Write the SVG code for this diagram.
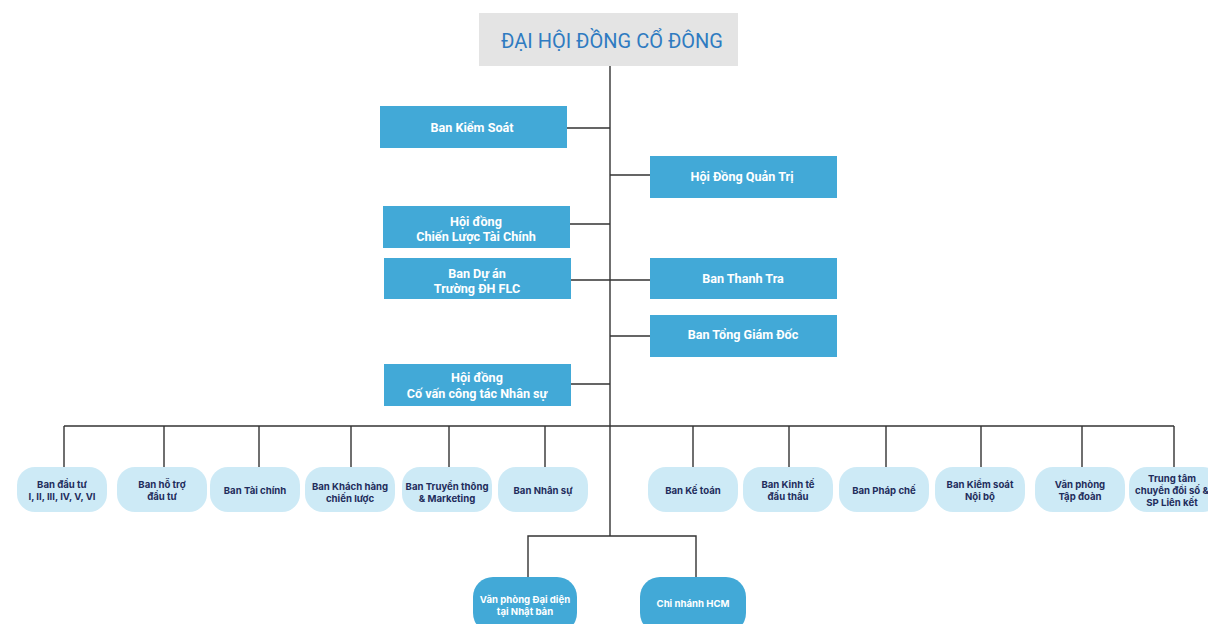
<svg xmlns="http://www.w3.org/2000/svg" width="1208" height="624" viewBox="0 0 1208 624">
<style>
.bg{fill:#ffffff}
.top{fill:#e4e4e4}
.title{font-family:Roboto,"Liberation Sans",sans-serif;font-size:20px;fill:#2f7bc1;text-anchor:middle}
.mid{fill:#42a9d7}
.mt{font-family:Roboto,"Liberation Sans",sans-serif;font-size:12.6px;font-weight:bold;fill:#ffffff;text-anchor:middle}
.lt{fill:#cdeaf6}
.lt-t{font-family:Inter,"Liberation Sans",sans-serif;font-size:9.6px;font-weight:bold;fill:#1f2d5c;text-anchor:middle}
.bt{font-family:Inter,"Liberation Sans",sans-serif;font-size:9.6px;font-weight:bold;fill:#ffffff;text-anchor:middle}
.ln{stroke:#333333;stroke-width:1.4;fill:none}
</style>
<rect class="bg" x="0" y="0" width="1208" height="624"/>
<g id="connectors">
<path class="ln" d="M610 66V536"/>
<path class="ln" d="M567 128H610M610 175H650M570 224H610M571 280H650M610 336H650M571 384H610"/>
<path class="ln" d="M64 426H1174"/>
<path class="ln" d="M64 426V467M164 426V467M259 426V467M351 426V467M449 426V467M545 426V467M693 426V467M789 426V467M886 426V467M981 426V467M1082 426V467M1174 426V467"/>
<path class="ln" d="M528 577V536H696V577"/>
</g>
<g id="n-dhdcd"><rect class="top" x="479" y="13" width="259" height="53"/><text class="title" x="612" y="48">ĐẠI HỘI ĐỒNG CỔ ĐÔNG</text></g>
<g id="n-bks"><rect class="mid" x="380" y="106" width="187" height="42"/><text class="mt" x="472" y="132">Ban Kiểm Soát</text></g>
<g id="n-hdqt"><rect class="mid" x="650" y="156" width="187" height="42"/><text class="mt" x="742" y="181">Hội Đồng Quản Trị</text></g>
<g id="n-hdcltc"><rect class="mid" x="383" y="206" width="187" height="42"/><text class="mt" x="476" y="226">Hội đồng</text><text class="mt" x="476" y="241">Chiến Lược Tài Chính</text></g>
<g id="n-bda"><rect class="mid" x="384" y="258" width="187" height="41"/><text class="mt" x="477" y="278">Ban Dự án</text><text class="mt" x="477" y="293">Trường ĐH FLC</text></g>
<g id="n-btt"><rect class="mid" x="650" y="258" width="187" height="41"/><text class="mt" x="743" y="283">Ban Thanh Tra</text></g>
<g id="n-btgd"><rect class="mid" x="650" y="315" width="187" height="42"/><text class="mt" x="743" y="339">Ban Tổng Giám Đốc</text></g>
<g id="n-hdcv"><rect class="mid" x="384" y="364" width="187" height="42"/><text class="mt" x="477" y="382">Hội đồng</text><text class="mt" x="477" y="398">Cố vấn công tác Nhân sự</text></g>
<g id="n-bdt"><rect class="lt" x="17" y="467" width="90" height="45" rx="18"/><text class="lt-t" x="62" y="488">Ban đầu tư</text><text class="lt-t" x="62" y="500">I, II, III, IV, V, VI</text></g>
<g id="n-bhtdt"><rect class="lt" x="117" y="467" width="90" height="45" rx="18"/><text class="lt-t" x="162" y="488">Ban hỗ trợ</text><text class="lt-t" x="162" y="500">đầu tư</text></g>
<g id="n-btc"><rect class="lt" x="210" y="467" width="90" height="45" rx="18"/><text class="lt-t" x="255" y="494">Ban Tài chính</text></g>
<g id="n-bkh"><rect class="lt" x="305" y="467" width="90" height="45" rx="18"/><text class="lt-t" x="350" y="490">Ban Khách hàng</text><text class="lt-t" x="350" y="502">chiến lược</text></g>
<g id="n-btt2"><rect class="lt" x="402" y="467" width="90" height="45" rx="18"/><text class="lt-t" x="447" y="490">Ban Truyền thông</text><text class="lt-t" x="447" y="502">&amp; Marketing</text></g>
<g id="n-bns"><rect class="lt" x="498" y="467" width="90" height="45" rx="18"/><text class="lt-t" x="543" y="494">Ban Nhân sự</text></g>
<g id="n-bkt"><rect class="lt" x="648" y="467" width="90" height="45" rx="18"/><text class="lt-t" x="693" y="494">Ban Kế toán</text></g>
<g id="n-bktdt"><rect class="lt" x="743" y="467" width="90" height="45" rx="18"/><text class="lt-t" x="788" y="488">Ban Kinh tế</text><text class="lt-t" x="788" y="500">đấu thầu</text></g>
<g id="n-bpc"><rect class="lt" x="839" y="467" width="90" height="45" rx="18"/><text class="lt-t" x="884" y="494">Ban Pháp chế</text></g>
<g id="n-bksnb"><rect class="lt" x="935" y="467" width="90" height="45" rx="18"/><text class="lt-t" x="980" y="488">Ban Kiểm soát</text><text class="lt-t" x="980" y="500">Nội bộ</text></g>
<g id="n-vptd"><rect class="lt" x="1035" y="467" width="90" height="45" rx="18"/><text class="lt-t" x="1080" y="488">Văn phòng</text><text class="lt-t" x="1080" y="500">Tập đoàn</text></g>
<g id="n-ttcds"><rect class="lt" x="1129" y="467" width="92" height="45" rx="18"/><text class="lt-t" x="1172" y="482">Trung tâm</text><text class="lt-t" x="1172" y="494">chuyển đổi số &amp;</text><text class="lt-t" x="1172" y="506">SP Liên kết</text></g>
<g id="n-vpdd"><rect class="mid" x="473" y="577" width="104" height="56" rx="20"/><text class="bt" x="525" y="603">Văn phòng Đại diện</text><text class="bt" x="525" y="615">tại Nhật bản</text></g>
<g id="n-cnhcm"><rect class="mid" x="640" y="577" width="106" height="56" rx="20"/><text class="bt" x="693" y="607">Chi nhánh HCM</text></g>
</svg>
